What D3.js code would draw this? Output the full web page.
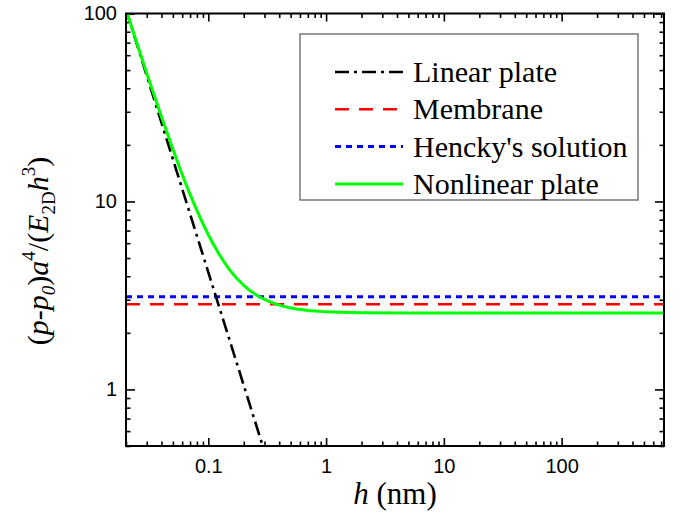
<!DOCTYPE html>
<html lang="en">
<head>
    <meta charset="UTF-8">
    <script src="https://d3js.org/d3.v7.min.js"></script>
    <title>Pressure vs thickness</title>
    <style>
        body { margin: 0; background: #fff; }
        svg { display: block; }
    </style>
</head>
<body>
    <figure style="margin:0"></figure>
    <script>
        // data
        const hLinear = [0.02, 0.05, 0.1, 0.2, 0.3];
        const linearPlate = [105, 16.8, 4.2, 1.05, 0.467];

        const hFlat = [0.02, 740];
        const membrane = [2.84, 2.84];
        const hencky = [3.11, 3.11];

        const hNonlinear = [0.02, 0.025, 0.03, 0.04, 0.05, 0.06, 0.07, 0.08, 0.1, 0.12, 0.15, 0.2, 0.25, 0.3, 0.4, 0.5, 0.7, 1, 2, 5, 10, 100, 740];
        const nonlinearPlate = [105, 68.2, 48.1, 28.2, 19.0, 13.9, 10.9, 8.96, 6.65, 5.40, 4.37, 3.58, 3.21, 3.01, 2.81, 2.71, 2.63, 2.59, 2.56, 2.55, 2.55, 2.55, 2.55];

        const xMajor = [0.1, 1, 10, 100];
        const xMajorLabels = ["0.1", "1", "10", "100"];
        const yMajor = [1, 10, 100];
        const yMajorLabels = ["1", "10", "100"];

        const legendNames = ["Linear plate", "Membrane", "Hencky's solution", "Nonlinear plate"];

        // layout
        const w = 680, h = 517;
        const pLeft = 126, pRight = 664, pTop = 13.5, pBottom = 446;

        const svg = d3.select("figure").append("svg")
            .attr("width", w)
            .attr("height", h);

        const xScale = d3.scaleLog().domain([0.02, 740]).range([pLeft, pRight]);
        const yScale = d3.scaleLog().domain([0.5, 100]).range([pBottom, pTop]);

        const isMajor = v => Math.abs(Math.log10(v) - Math.round(Math.log10(v))) < 1e-6;
        const xMinor = xScale.ticks().filter(v => !isMajor(v));
        const yMinor = yScale.ticks().filter(v => !isMajor(v));

        const tickFont = "'Liberation Sans', Arial, sans-serif";
        const serif = "'Liberation Serif', 'Times New Roman', serif";

        //axes: ticks pointing inwards, mirrored on top/right
        function styleAxis(g) {
            g.select(".domain").remove();
            g.selectAll("line").attr("stroke", "#000").attr("stroke-width", 1.6);
            g.selectAll("text").attr("fill", "#000").style("font-family", tickFont).style("font-size", "20px");
        }

        svg.append("g").attr("transform", "translate(0," + pBottom + ")")
            .call(d3.axisBottom(xScale).tickValues(xMinor).tickSize(-4.5).tickFormat(""))
            .call(styleAxis);
        svg.append("g").attr("transform", "translate(0," + pBottom + ")")
            .call(d3.axisBottom(xScale).tickValues(xMajor).tickSize(-8).tickPadding(13)
                .tickFormat((d, i) => xMajorLabels[i]))
            .call(styleAxis);

        svg.append("g").attr("transform", "translate(0," + pTop + ")")
            .call(d3.axisTop(xScale).tickValues(xMinor).tickSize(-4.5).tickFormat(""))
            .call(styleAxis);
        svg.append("g").attr("transform", "translate(0," + pTop + ")")
            .call(d3.axisTop(xScale).tickValues(xMajor).tickSize(-8).tickFormat(""))
            .call(styleAxis);

        svg.append("g").attr("transform", "translate(" + pLeft + ",0)")
            .call(d3.axisLeft(yScale).tickValues(yMinor).tickSize(-4.5).tickFormat(""))
            .call(styleAxis);
        svg.append("g").attr("transform", "translate(" + pLeft + ",0)")
            .call(d3.axisLeft(yScale).tickValues(yMajor).tickSize(-9).tickPadding(9)
                .tickFormat((d, i) => yMajorLabels[i]))
            .call(styleAxis);

        svg.append("g").attr("transform", "translate(" + pRight + ",0)")
            .call(d3.axisRight(yScale).tickValues(yMinor).tickSize(-4.5).tickFormat(""))
            .call(styleAxis);
        svg.append("g").attr("transform", "translate(" + pRight + ",0)")
            .call(d3.axisRight(yScale).tickValues(yMajor).tickSize(-9).tickFormat(""))
            .call(styleAxis);

        //clip for the curves
        svg.append("clipPath").attr("id", "plotClip")
            .append("rect")
            .attr("x", pLeft).attr("y", pTop)
            .attr("width", pRight - pLeft).attr("height", pBottom - pTop);

        const line = d3.line()
            .x(d => xScale(d[0]))
            .y(d => yScale(d[1]))
            .curve(d3.curveMonotoneX);

        const series = [
            {xs: hLinear, ys: linearPlate, color: "#000", dash: "14,5,3,5", width: 2.6},
            {xs: hFlat, ys: membrane, color: "#ff0000", dash: "14,10", width: 2.6},
            {xs: hFlat, ys: hencky, color: "#0000ff", dash: "6,5", width: 3},
            {xs: hNonlinear, ys: nonlinearPlate, color: "#00ff00", dash: null, width: 3}
        ];

        const curves = svg.append("g").attr("clip-path", "url(#plotClip)");
        // flat lines first, nonlinear last so green sits on top
        [1, 2, 0, 3].forEach(i => {
            const s = series[i];
            curves.append("path")
                .datum(s.xs.map((x, j) => [x, s.ys[j]]))
                .attr("d", line)
                .attr("fill", "none")
                .attr("stroke", s.color)
                .attr("stroke-width", s.width)
                .attr("stroke-dasharray", s.dash);
        });

        //frame
        svg.append("rect")
            .attr("x", pLeft).attr("y", pTop)
            .attr("width", pRight - pLeft).attr("height", pBottom - pTop)
            .attr("fill", "none")
            .attr("stroke", "#000")
            .attr("stroke-width", 2);

        //legend
        const legend = svg.append("g").attr("id", "legend");
        legend.append("rect")
            .attr("x", 300).attr("y", 34)
            .attr("width", 338).attr("height", 166)
            .attr("fill", "#fff")
            .attr("stroke", "#777")
            .attr("stroke-width", 1.5);

        legendNames.forEach((name, i) => {
            const s = series[i];
            const ly = 72 + i * 37.3;
            legend.append("line")
                .attr("x1", 335).attr("x2", 403)
                .attr("y1", ly).attr("y2", ly)
                .attr("stroke", s.color)
                .attr("stroke-width", s.width)
                .attr("stroke-dasharray", s.dash);
            legend.append("text")
                .attr("x", 413).attr("y", ly + 10)
                .style("font-family", serif)
                .style("font-size", "30px")
                .text(name);
        });

        //x label
        const xLab = svg.append("text")
            .attr("x", 395).attr("y", 504)
            .attr("text-anchor", "middle")
            .style("font-family", serif)
            .style("font-size", "31px");
        xLab.append("tspan").style("font-style", "italic").text("h");
        xLab.append("tspan").text(" (nm)");

        //y label
        const yLab = svg.append("text")
            .attr("transform", "translate(48,251) rotate(-90)")
            .attr("text-anchor", "middle")
            .style("font-family", serif)
            .style("font-size", "30px");
        const parts = [
            {t: "(", it: false},
            {t: "p", it: true},
            {t: "-", it: false},
            {t: "p", it: true},
            {t: "0", it: true, shift: 7},
            {t: ")", it: false},
            {t: "a", it: true},
            {t: "4", it: false, shift: -13},
            {t: "/(", it: false},
            {t: "E", it: true},
            {t: "2D", it: false, shift: 7},
            {t: "h", it: true},
            {t: "3", it: false, shift: -13},
            {t: ")", it: false}
        ];
        let cur = 0;
        parts.forEach(p => {
            const target = p.shift || 0;
            yLab.append("tspan")
                .attr("dy", target - cur)
                .style("font-style", p.it ? "italic" : "normal")
                .style("font-size", p.shift ? "19px" : null)
                .text(p.t);
            cur = target;
        });
    </script>
</body>
</html>
